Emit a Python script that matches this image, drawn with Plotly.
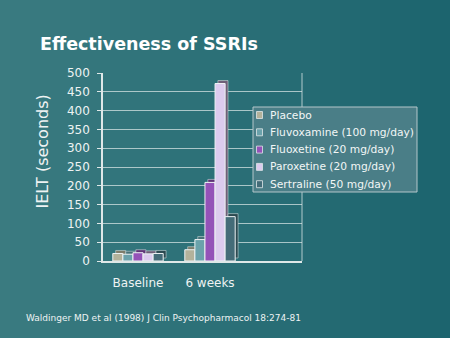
import plotly.graph_objects as go

categories = ["Baseline", "6 weeks"]
series_names = ["Placebo", "Fluvoxamine (100 mg/day)", "Fluoxetine (20 mg/day)",
                "Paroxetine (20 mg/day)", "Sertraline (50 mg/day)"]
placebo = [20, 30]
fluvoxamine = [18, 57]
fluoxetine = [22, 209]
paroxetine = [19, 472]
sertraline = [20, 118]
y_ticks = [0, 50, 100, 150, 200, 250, 300, 350, 400, 450, 500]

series_values = [placebo, fluvoxamine, fluoxetine, paroxetine, sertraline]
colors = ["#b3b29b", "#6aa2ab", "#9452b8", "#dccbee", "#446c78"]
side_colors = ["#7d7c6a", "#477178", "#5f3477", "#6e5f78", "#2b4950"]

W, H = 450, 338
L, R, T, B = 103, 148, 73, 77
PW, PH = W - L - R, H - T - B


def px(x):
    return (x - L) / PW


def py(y):
    return (H - B - y) / PH


fig = go.Figure()
xpos = list(range(len(categories)))
bw = 0.14
depth_x = 0.04
depth_y = 8
n = len(series_names)
for i, (name, vals, col, scol) in enumerate(zip(series_names, series_values, colors, side_colors)):
    off = -bw * n / 2 + i * bw
    fig.add_trace(go.Bar(
        x=xpos, y=vals, base=depth_y, width=bw, offset=off + depth_x,
        marker=dict(color=scol, line=dict(color="#c8d6d8", width=0.6)),
        showlegend=False, hoverinfo="skip",
    ))
    fig.add_trace(go.Bar(
        x=xpos, y=vals, width=bw, offset=off, name=name,
        marker=dict(color=col, line=dict(color="#eef3f4", width=1)),
        showlegend=False,
    ))

shapes = []
# background gradient (left lighter, right darker)
c0 = (58, 123, 128)
c1 = (28, 100, 110)
steps = 45
for k in range(steps):
    t = k / (steps - 1)
    c = tuple(round(a + (b - a) * t) for a, b in zip(c0, c1))
    shapes.append(dict(type="rect", xref="paper", yref="paper",
                       x0=px(k * W / steps), x1=px((k + 1) * W / steps + 1),
                       y0=py(H), y1=py(0), layer="below", line=dict(width=0),
                       fillcolor="rgb(%d,%d,%d)" % c))
# right edge of back wall
shapes.append(dict(type="line", xref="paper", yref="paper", x0=1, x1=1, y0=0, y1=1,
                   line=dict(color="rgba(225,235,235,0.75)", width=1)))
# legend box
shapes.append(dict(type="rect", xref="paper", yref="paper",
                   x0=px(253), x1=px(417), y0=py(192), y1=py(107),
                   fillcolor="#4a7e87",
                   line=dict(color="#b4c6ca", width=1)))

annotations = [
    dict(text="<b>Effectiveness of SSRIs</b>", xref="paper", yref="paper",
         x=px(38), y=py(44), xanchor="left", yanchor="middle",
         showarrow=False, font=dict(size=17.5, color="white")),
    dict(text="IELT (seconds)", xref="paper", yref="paper",
         x=px(41.5), y=py(152), xanchor="center", yanchor="middle", textangle=-90,
         showarrow=False, font=dict(size=16, color="#eef3f3")),
    dict(text="Waldinger MD et al (1998) J Clin Psychopharmacol 18:274-81",
         xref="paper", yref="paper", x=px(24), y=py(318),
         xanchor="left", yanchor="middle", showarrow=False,
         font=dict(size=9, color="#eef3f3")),
]
for i, (name, col) in enumerate(zip(series_names, colors)):
    yc = 115 + i * 17.3
    shapes.append(dict(type="rect", xref="paper", yref="paper",
                       x0=px(256.5), x1=px(262.5), y0=py(yc + 3.5), y1=py(yc - 3.5),
                       fillcolor=col, line=dict(color="#dfe7e8", width=0.8)))
    annotations.append(dict(text=name, xref="paper", yref="paper",
                            x=px(267.5), y=py(yc), xanchor="left", yanchor="middle",
                            showarrow=False, font=dict(size=10.7, color="#f2f6f6")))

x0 = -(138 - L) / 72
fig.update_layout(
    width=W, height=H,
    margin=dict(l=L, r=R, t=T, b=B, autoexpand=False),
    paper_bgcolor="#2d7078",
    plot_bgcolor="rgba(0,0,0,0)",
    barmode="overlay",
    font=dict(family="DejaVu Sans", color="#eef3f3", size=12),
    showlegend=False,
    shapes=shapes,
    annotations=annotations,
)
fig.update_yaxes(range=[0, 500], tickvals=y_ticks, showgrid=True,
                 gridcolor="rgba(225,235,235,0.7)", gridwidth=1,
                 showline=True, linecolor="#dfe8e8", linewidth=1.5,
                 ticks="outside", ticklen=4, tickcolor="#dfe8e8",
                 ticklabelstandoff=5,
                 zeroline=False, fixedrange=True)
fig.update_xaxes(showline=True, linecolor="#dfe8e8", linewidth=2,
                 tickvals=xpos, ticktext=categories,
                 ticks="", ticklabelstandoff=10, showgrid=False,
                 range=[x0, x0 + PW / 72], fixedrange=True)
fig.write_html("out.html")
